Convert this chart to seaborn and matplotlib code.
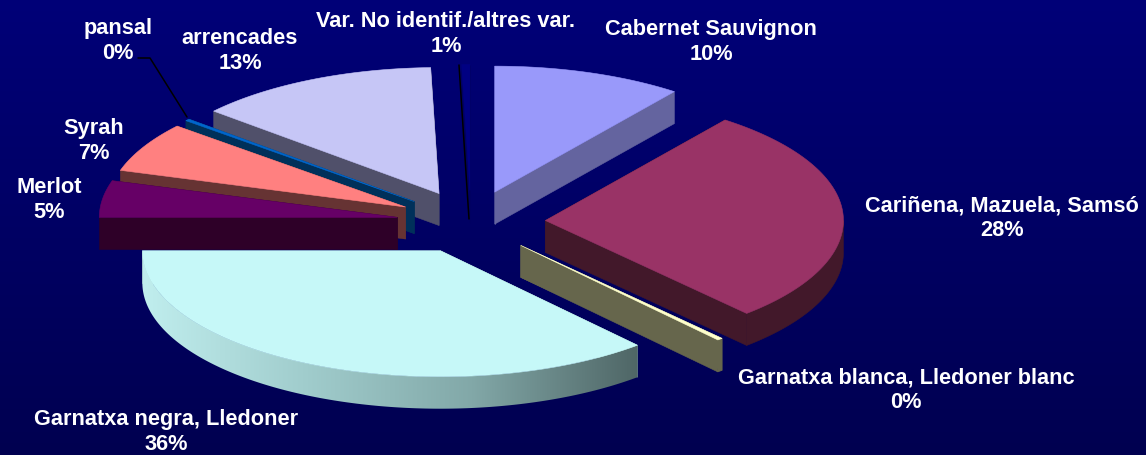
import numpy as np
import matplotlib
matplotlib.use("Agg")
import matplotlib.pyplot as plt
from matplotlib.patches import Polygon
import seaborn as sns

# ---- data ----
varieties = ["Cabernet Sauvignon", "Cariñena, Mazuela, Samsó", "Garnatxa blanca, Lledoner blanc",
             "Garnatxa negra, Lledoner", "Merlot", "Syrah", "pansal", "arrencades",
             "Var. No identif./altres var."]
shares = [10.3, 27.9, 0.3, 36.5, 4.7, 6.4, 0.25, 13.2, 0.45]
share_labels = ["10%", "28%", "0%", "36%", "5%", "7%", "0%", "13%", "1%"]

# ---- style ----
top_colors = ["#9999fa", "#993366", "#ffffcc", "#c6f8f8", "#660066", "#ff8080", "#0066cc", "#c6c6f6", "#000082"]
side_colors = ["#64649f", "#42182a", "#66664c", "#80a0a0", "#2e0028", "#663333", "#00305a", "#50506a", "#000062"]
label_px = [(711, 42), (1002, 218), (906, 390), (166, 432), (49, 200), (94, 141), (118, 41), (240, 51), (446, 34)]
W, H = 1146, 456
CX, CY, RX, RY = 471, 223, 298, 126
EXPLODE, DEPTH = 0.25, 32 / RY

sns.set_theme(style="white", rc={"font.family": ["Liberation Sans", "DejaVu Sans"]})
fig = plt.figure(figsize=(W / 100, H / 100), dpi=100)
ax = fig.add_axes([0, 0, 1, 1])
ax.set_axis_off()
xlim = (-CX / RX, (W - CX) / RX)
ylim = ((CY - H) / RY, CY / RY)

# background: vertical gradient
bg = np.array(sns.blend_palette(["#000078", "#000050"], 256))[:, None, :]
ax.imshow(bg, extent=(*xlim, *ylim), aspect="auto", origin="upper", zorder=0)

palette_top = sns.color_palette(top_colors)
palette_side = sns.color_palette(side_colors)
negra_strip = np.array(sns.blend_palette(["#c0eeee", "#a0cccc", "#82a8a8", "#4f6666"], 256))[None, :, :]

angles = np.concatenate([[0], np.cumsum(shares)]) * 360 / np.sum(shares)
mids = (angles[:-1] + angles[1:]) / 2
order = np.argsort(-np.cos(np.radians(mids)))


def arc(t0, t1, ox, oy, n=120):
    t = np.radians(np.linspace(t0, t1, n))
    return ox + np.sin(t), oy + np.cos(t)


z = 2
for i in order:
    t0, t1 = angles[i], angles[i + 1]
    m = np.radians(mids[i])
    ox, oy = EXPLODE * np.sin(m), EXPLODE * np.cos(m)
    side, top = palette_side[i], palette_top[i]

    # cut faces
    for t in (t0, t1):
        ex, ey = ox + np.sin(np.radians(t)), oy + np.cos(np.radians(t))
        ax.fill([ox, ex, ex, ox], [oy, ey, ey - DEPTH, oy - DEPTH],
                color=side, lw=0.4, zorder=z)
    # outer rim, only the near half shows
    a, b = max(t0, 90), min(t1, 270)
    if b > a:
        xs, ys = arc(a, b, ox, oy, 200)
        rx_all, ry_all = np.r_[xs, xs[::-1]], np.r_[ys, ys[::-1] - DEPTH]
        if varieties[i].startswith("Garnatxa negra"):
            rim = Polygon(np.c_[rx_all, ry_all], closed=True, transform=ax.transData,
                          facecolor="none", edgecolor="none")
            ax.add_patch(rim)
            im = ax.imshow(negra_strip, extent=(xs.min(), xs.max(), ry_all.min(), ry_all.max()),
                           aspect="auto", zorder=z, interpolation="bilinear")
            im.set_clip_path(rim)
        else:
            ax.fill(rx_all, ry_all, color=side, lw=0.4, zorder=z)
    # top surface
    xs, ys = arc(t0, t1, ox, oy)
    ax.fill(np.r_[ox, xs], np.r_[oy, ys], color=top, lw=0.4, zorder=z + 0.5)
    z += 1

ax.set_xlim(*xlim)
ax.set_ylim(*ylim)


def px(x, y):
    return x / W, 1 - y / H


# leader lines
for pts in ([(138, 59), (150, 59), (187, 118)], [(459, 66), (469, 220)]):
    fx, fy = zip(*[px(*p) for p in pts])
    ax.plot(fx, fy, color="black", lw=1.1, transform=ax.transAxes, zorder=40)

# labels
for name, pct, (lx, ly) in zip(varieties, share_labels, label_px):
    fx, fy = px(lx, ly)
    ax.text(fx, fy, f"{name}\n{pct}", transform=ax.transAxes, ha="center", va="center",
            multialignment="center", color="white", fontweight="bold", fontsize=15.7,
            linespacing=1.2, zorder=50)

fig.savefig("out.png", dpi=100, facecolor="#000070")
